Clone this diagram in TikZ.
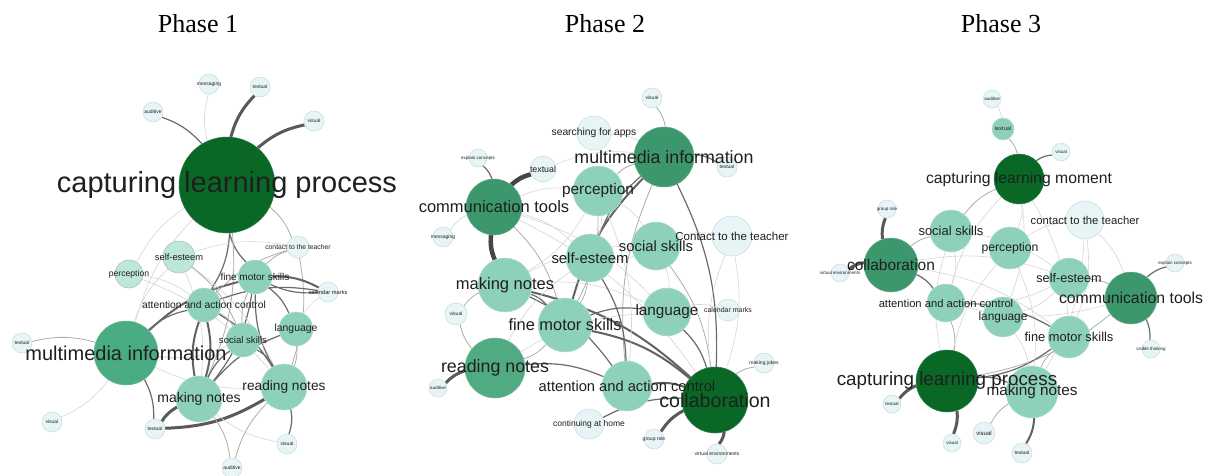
\documentclass[tikz,border=0pt]{standalone}
\usepackage{fontspec}
\setmainfont{Liberation Serif}
\setsansfont{Liberation Sans}
\pgfdeclarelayer{bglayer}
\pgfdeclarelayer{edgelayer}
\pgfdeclarelayer{labellayer}
\pgfsetlayers{bglayer,edgelayer,main,labellayer}
\definecolor{gdark}{RGB}{10,104,38}
\definecolor{gmid}{RGB}{74,172,130}
\definecolor{gmidb}{RGB}{60,152,108}
\definecolor{gmidc}{RGB}{80,170,130}
\definecolor{gmint}{RGB}{142,209,185}
\definecolor{glight}{RGB}{190,230,218}
\definecolor{gpale}{RGB}{231,245,246}
\definecolor{gpaleb}{RGB}{198,220,222}
\definecolor{ecol}{RGB}{70,70,70}
\tikzset{
  gcirc/.style={circle,inner sep=0pt,line width=0.5pt},
  ndark/.style={gcirc,fill=gdark,draw=gdark!85!white},
  nmid/.style={gcirc,fill=gmid,draw=gmid!80!white},
  nmidb/.style={gcirc,fill=gmidb,draw=gmidb!80!white},
  nmidc/.style={gcirc,fill=gmidc,draw=gmidc!80!white},
  nmint/.style={gcirc,fill=gmint,draw=gmint!70!white},
  nlight/.style={gcirc,fill=glight,draw=glight!60!gray},
  npale/.style={gcirc,fill=gpale,draw=gpaleb},
  lbl/.style={inner sep=0pt,text=black!88,font=\sffamily},
  ttl/.style={inner sep=0pt,font=\fontsize{26}{28}\selectfont},
  e1/.style={draw=black!16,line width=0.6pt},
  e2/.style={draw=black!32,line width=0.8pt},
  e3/.style={draw=ecol!80,line width=1.2pt},
  e4/.style={draw=ecol!85,line width=2pt},
  e5/.style={draw=ecol!90,line width=3pt},
  e6/.style={draw=ecol,line width=4.5pt},
}
% graph node: name, position, radius, style, label size, label
\newcommand\gn[6]{%
  \node[#4,minimum size={2*#3pt}] (#1) at (#2) {};
  \begin{pgfonlayer}{labellayer}
    \node[lbl,font=\sffamily\fontsize{#5}{#5}\selectfont] at (#1) {#6};
  \end{pgfonlayer}}
% curved connector between two named nodes
\newcommand\ed[3]{\draw[#1] (#2) to[bend left=14] (#3);}
\begin{document}
\begin{tikzpicture}[x=1pt,y=-1pt]
\begin{pgfonlayer}{bglayer}
  \fill[white] (0,0) rectangle (1208,475);
\end{pgfonlayer}
\useasboundingbox (0,0) rectangle (1208,475);

% titles
\node[ttl] (t1) at (198,24) {Phase 1};
\node[ttl] (t2) at (605,24) {Phase 2};
\node[ttl] (t3) at (1001,24) {Phase 3};

% ---------------- Phase 1 ----------------
\gn{aclp}{227,185}{48}{ndark}{29}{capturing learning process}
\gn{amsg}{209,84}{10}{npale}{5}{messaging}
\gn{atxt1}{260,87}{10}{npale}{5}{textual}
\gn{aaud1}{153,112}{10}{npale}{5}{auditive}
\gn{avis1}{314,121}{10}{npale}{5}{visual}
\gn{aself}{179,257}{16}{nlight}{9.3}{self-esteem}
\gn{acon}{298,247}{11}{npale}{6.8}{contact to the teacher}
\gn{aper}{129,274}{14}{nlight}{8.6}{perception}
\gn{afms}{255,277}{17}{nmint}{10}{fine motor skills}
\gn{acal}{328,292}{10}{npale}{5.7}{calendar marks}
\gn{aatt}{204,305}{17}{nmint}{10.3}{attention and action control}
\gn{alang}{296,329}{17}{nmint}{10.4}{language}
\gn{asoc}{243,340}{17}{nmint}{9.6}{social skills}
\gn{amm}{126,353}{32}{nmid}{20}{multimedia information}
\gn{atxt2}{22,343}{10}{npale}{5}{textual}
\gn{arn}{284,387}{23}{nmint}{13.7}{reading notes}
\gn{amn}{199,399}{23}{nmint}{14}{making notes}
\gn{avis2}{52,422}{10}{npale}{5}{visual}
\gn{atxt3}{155,429}{10}{npale}{5}{textual}
\gn{avis3}{287,444}{10}{npale}{5}{visual}
\gn{aaud2}{232,468}{10}{npale}{5}{auditive}

% ---------------- Phase 2 ----------------
\gn{bvis1}{652,98}{10}{npale}{5}{visual}
\gn{bsfa}{594,133}{17}{npale}{10.3}{searching for apps}
\gn{bmm}{664,157}{30}{nmidb}{17.8}{multimedia information}
\gn{btxt2}{727,167}{10}{npale}{5}{textual}
\gn{bexp}{478,158}{9}{npale}{4.5}{explain concepts}
\gn{btxt1}{543,169}{13}{npale}{8.8}{textual}
\gn{bct}{494,207}{28}{nmidb}{16.5}{communication tools}
\gn{bper}{598,191}{25}{nmint}{15.4}{perception}
\gn{bmsg}{443,237}{10}{npale}{5}{messaging}
\gn{bcon}{732,236}{20}{npale}{11.5}{Contact to the teacher}
\gn{bsoc}{656,246}{24}{nmint}{14.8}{social skills}
\gn{bself}{590,258}{24}{nmint}{14.9}{self-esteem}
\gn{bmn}{505,285}{27}{nmint}{16.5}{making notes}
\gn{bvis2}{456,314}{11}{npale}{5}{visual}
\gn{blang}{667,312}{24}{nmint}{15.3}{language}
\gn{bcal}{728,310}{11}{npale}{7}{calendar marks}
\gn{bfms}{565,325}{27}{nmint}{16.4}{fine motor skills}
\gn{brn}{495,368}{30}{nmidc}{17.8}{reading notes}
\gn{bjok}{764,363}{10}{npale}{5}{making jokes}
\gn{baud}{438,388}{9}{npale}{4.5}{auditive}
\gn{batt}{627,386}{25}{nmint}{14.7}{attention and action control}
\gn{bcol}{715,400}{33}{ndark}{19.6}{collaboration}
\gn{bcah}{589,424}{15}{npale}{8.5}{continuing at home}
\gn{bgr}{654,439}{10}{npale}{5}{group role}
\gn{bve}{717,454}{10}{npale}{5}{virtual environments}

% ---------------- Phase 3 ----------------
\gn{caud}{992,99}{9}{npale}{4.5}{auditive}
\gn{ctxt1}{1003,129}{11}{nmint}{5.5}{textual}
\gn{cvis1}{1061,152}{9}{npale}{4.5}{visual}
\gn{cclm}{1019,179}{25}{ndark}{15.7}{capturing learning moment}
\gn{ccon}{1085,220}{19}{npale}{11.3}{contact to the teacher}
\gn{csoc}{951,231}{21}{nmint}{13}{social skills}
\gn{cper}{1010,248}{21}{nmint}{12.2}{perception}
\gn{cgr}{887,209}{9}{npale}{4.5}{group role}
\gn{ccol}{891,265}{27}{nmidb}{15.5}{collaboration}
\gn{cve}{840,273}{9}{npale}{4.5}{virtual environments}
\gn{cexp}{1175,263}{9}{npale}{4.5}{explain concepts}
\gn{cself}{1069,278}{20}{nmint}{12.6}{self-esteem}
\gn{cct}{1131,298}{26}{nmidb}{15.8}{communication tools}
\gn{catt}{946,303}{19}{nmint}{11.2}{attention and action control}
\gn{clang}{1003,317}{20}{nmint}{11.9}{language}
\gn{cfms}{1069,337}{21}{nmint}{12.9}{fine motor skills}
\gn{cvt}{1151,349}{9}{npale}{4.5}{visible thinking}
\gn{cclp}{947,381}{31}{ndark}{18.8}{capturing learning process}
\gn{cmn}{1032,392}{26}{nmint}{15.3}{making notes}
\gn{ctxt2}{892,404}{9}{npale}{4.5}{textual}
\gn{cvis2}{984,433}{11}{npale}{6}{visual}
\gn{cvis3}{952,443}{9}{npale}{4.5}{visual}
\gn{ctxt3}{1022,453}{10}{npale}{5}{textual}

\begin{pgfonlayer}{edgelayer}
% Phase 1 connectors
\ed{e5}{aclp}{atxt1}
\ed{e5}{aclp}{avis1}
\ed{e3}{aaud1}{aclp}
\ed{e1}{aclp}{amsg}
\ed{e3}{aclp}{aatt}
\ed{e3}{afms}{aclp}
\ed{e1}{amm}{aclp}
\ed{e1}{aper}{aclp}
\ed{e2}{aclp}{acon}
\ed{e2}{aclp}{amn}
\ed{e4}{amm}{afms}
\ed{e3}{amm}{aatt}
\ed{e1}{alang}{amm}
\ed{e1}{asoc}{amm}
\ed{e2}{atxt2}{amm}
\ed{e1}{amm}{avis2}
\ed{e3}{amm}{atxt3}
\ed{e1}{arn}{amm}
\ed{e1}{amm}{aself}
\ed{e5}{atxt3}{amn}
\ed{e5}{arn}{atxt3}
\ed{e4}{amn}{aatt}
\ed{e4}{aatt}{amn}
\ed{e3}{amn}{alang}
\ed{e3}{amn}{asoc}
\ed{e3}{afms}{amn}
\ed{e2}{amn}{aaud2}
\ed{e1}{avis3}{amn}
\ed{e3}{arn}{afms}
\ed{e3}{aatt}{arn}
\ed{e2}{aaud2}{arn}
\ed{e3}{arn}{avis3}
\ed{e2}{acon}{arn}
\ed{e1}{aself}{arn}
\ed{e1}{aper}{arn}
\ed{e4}{afms}{acal}
\ed{e3}{acal}{afms}
\ed{e3}{aatt}{acal}
\ed{e1}{alang}{acal}
\ed{e2}{afms}{acon}
\ed{e2}{aatt}{acon}
\ed{e1}{aself}{acon}
\ed{e2}{aself}{asoc}
\ed{e1}{aself}{amn}
\ed{e1}{aper}{aatt}
\ed{e3}{afms}{alang}
\ed{e3}{asoc}{arn}
\ed{e2}{alang}{arn}
\ed{e2}{asoc}{afms}
\ed{e2}{aatt}{asoc}
% Phase 2 connectors
\ed{e6}{bct}{btxt1}
\ed{e6}{bmn}{bct}
\ed{e3}{bexp}{bct}
\ed{e1}{bmsg}{bct}
\ed{e2}{bct}{bfms}
\ed{e1}{bct}{bself}
\ed{e1}{bct}{bcol}
\ed{e1}{bct}{bper}
\ed{e1}{bct}{blang}
\ed{e2}{bvis1}{bmm}
\ed{e3}{bmm}{btxt2}
\ed{e1}{bsfa}{bmm}
\ed{e2}{bper}{bmm}
\ed{e4}{bfms}{bmm}
\ed{e3}{bself}{bmm}
\ed{e3}{bmm}{bcol}
\ed{e2}{batt}{bmm}
\ed{e1}{btxt1}{bmm}
\ed{e2}{bvis2}{bmn}
\ed{e3}{bmn}{bfms}
\ed{e3}{bmn}{batt}
\ed{e4}{bmn}{bcol}
\ed{e1}{bmn}{blang}
\ed{e1}{bmn}{bsoc}
\ed{e5}{baud}{brn}
\ed{e2}{brn}{bvis2}
\ed{e3}{brn}{batt}
\ed{e2}{bfms}{brn}
\ed{e1}{brn}{bself}
\ed{e1}{brn}{blang}
\ed{e4}{bfms}{bcol}
\ed{e3}{bfms}{blang}
\ed{e3}{bself}{batt}
\ed{e2}{bself}{bfms}
\ed{e3}{blang}{bcol}
\ed{e2}{bsoc}{bcol}
\ed{e1}{bcon}{bcol}
\ed{e1}{bcol}{bcon}
\ed{e1}{bsoc}{bcon}
\ed{e2}{bcol}{bjok}
\ed{e5}{bgr}{bcol}
\ed{e5}{bcol}{bve}
\ed{e3}{bcah}{bcol}
\ed{e4}{batt}{bcol}
\ed{e1}{blang}{bcal}
\ed{e1}{bper}{bself}
\ed{e1}{bper}{bsoc}
\ed{e1}{bsoc}{bself}
\ed{e1}{bsoc}{blang}
\ed{e2}{bper}{bfms}
\ed{e1}{bper}{bmn}
\ed{e1}{bper}{batt}
% Phase 3 connectors
\ed{e2}{ctxt1}{cclm}
\ed{e1}{caud}{ctxt1}
\ed{e3}{cclm}{cvis1}
\ed{e2}{csoc}{cclm}
\ed{e1}{cclm}{cper}
\ed{e1}{cclm}{clang}
\ed{e1}{catt}{cclm}
\ed{e1}{cclm}{cfms}
\ed{e5}{ccol}{cgr}
\ed{e5}{cve}{ccol}
\ed{e3}{ccol}{catt}
\ed{e2}{ccol}{csoc}
\ed{e1}{ccol}{cfms}
\ed{e1}{ccol}{cself}
\ed{e3}{cct}{cexp}
\ed{e3}{cct}{cvt}
\ed{e2}{cself}{cct}
\ed{e2}{cct}{cclp}
\ed{e1}{cct}{catt}
\ed{e1}{ccon}{cct}
\ed{e5}{ctxt2}{cclp}
\ed{e5}{cclp}{cvis3}
\ed{e3}{cclp}{cmn}
\ed{e3}{cfms}{cclp}
\ed{e2}{catt}{cclp}
\ed{e1}{cclp}{cper}
\ed{e1}{cclp}{csoc}
\ed{e4}{cmn}{ctxt3}
\ed{e2}{cvis2}{cmn}
\ed{e2}{cmn}{cfms}
\ed{e1}{clang}{cmn}
\ed{e1}{cper}{cmn}
\ed{e3}{catt}{cfms}
\ed{e2}{catt}{clang}
\ed{e1}{cself}{clang}
\ed{e1}{cself}{catt}
\ed{e1}{csoc}{catt}
\ed{e1}{ccon}{cfms}
\ed{e1}{ccon}{cmn}
\ed{e1}{csoc}{cself}
\ed{e1}{cper}{ccon}
\end{pgfonlayer}
\end{tikzpicture}
\end{document}
